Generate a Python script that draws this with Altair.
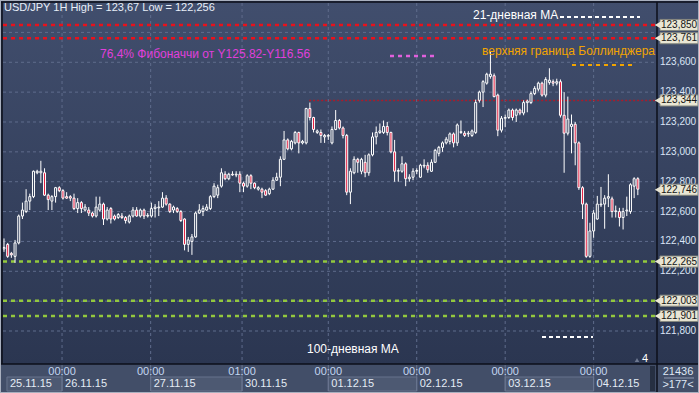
import altair as alt
import pandas as pd

# ---------------- data (USD/JPY 1H candles) ----------------
opens = [
    122.35, 122.38, 122.32, 122.30, 122.39, 122.57, 122.60, 122.67, 122.70, 122.86,
    122.86, 122.86, 122.71, 122.67, 122.70, 122.76, 122.74, 122.70, 122.70, 122.69,
    122.62, 122.66, 122.61, 122.61, 122.59, 122.57, 122.61, 122.65, 122.55, 122.62,
    122.57, 122.56,
    122.57, 122.56, 122.53, 122.57, 122.61, 122.57, 122.61, 122.57, 122.57, 122.62,
    122.625, 122.63, 122.69, 122.65, 122.61, 122.62, 122.60, 122.55, 122.38, 122.40,
    122.43, 122.59, 122.60, 122.61, 122.62, 122.70, 122.71, 122.77, 122.85, 122.82,
    122.85,
    122.845, 122.85, 122.79, 122.77, 122.84, 122.79, 122.75, 122.75, 122.74, 122.72,
    122.75, 122.81, 122.83, 122.95, 123.08, 123.02, 123.06, 123.13, 123.06, 123.06,
    123.29, 123.23, 123.13, 123.13, 123.10, 123.105, 123.06, 123.15, 123.21, 123.16,
    123.11,
    122.73, 122.86, 122.95, 122.87, 122.93, 122.86, 122.98, 123.10, 123.13, 123.13,
    123.17, 123.13, 123.00, 122.87, 122.87, 122.92, 122.82, 122.83, 122.87, 122.83,
    122.905, 122.91, 122.87, 122.93, 122.99, 123.03, 123.06, 123.07, 123.12, 123.06,
    123.13, 123.125,
    123.12, 123.11, 123.13, 123.345, 123.40, 123.46, 123.505, 123.51, 123.38, 123.145,
    123.225, 123.23, 123.28, 123.245, 123.28, 123.26, 123.33, 123.33, 123.39, 123.42,
    123.46, 123.38, 123.465, 123.47, 123.46, 123.47, 123.245, 123.125, 123.17, 123.185,
    123.06,
    122.76, 122.65, 122.30, 122.47, 122.55, 122.645, 122.65, 122.69, 122.685, 122.60,
    122.60, 122.56, 122.605, 122.60, 122.77, 122.82,
]
highs = [
    122.42, 122.39, 122.33, 122.41, 122.58, 122.66, 122.75, 122.72, 122.875, 122.88,
    122.94, 122.89, 122.72, 122.71, 122.765, 122.77, 122.75, 122.73, 122.71, 122.72,
    122.69, 122.67, 122.65, 122.63, 122.60, 122.70, 122.70, 122.66, 122.63, 122.63,
    122.58, 122.59,
    122.59, 122.57, 122.58, 122.63, 122.63, 122.62, 122.62, 122.59, 122.66, 122.65,
    122.67, 122.73, 122.71, 122.655, 122.64, 122.63, 122.61, 122.555, 122.43, 122.45,
    122.60, 122.65, 122.64, 122.65, 122.71, 122.79, 122.78, 122.89, 122.87, 122.86,
    122.87,
    122.87, 122.87, 122.80, 122.85, 122.85, 122.795, 122.77, 122.76, 122.75, 122.76,
    122.83, 122.86, 122.97, 123.14, 123.09, 123.08, 123.14, 123.135, 123.08, 123.295,
    123.33, 123.235, 123.15, 123.15, 123.12, 123.12, 123.17, 123.28, 123.22, 123.17,
    123.12,
    122.89, 122.97, 122.96, 122.96, 122.98, 122.99, 123.13, 123.17, 123.19, 123.21,
    123.20, 123.135, 123.08, 122.89, 122.97, 122.93, 122.85, 122.89, 122.89, 122.92,
    122.95, 122.93, 122.95, 123.02, 123.04, 123.07, 123.10, 123.13, 123.13, 123.19,
    123.21, 123.14,
    123.14, 123.15, 123.35, 123.41, 123.48, 123.53, 123.67, 123.525, 123.39, 123.24,
    123.25, 123.29, 123.29, 123.29, 123.29, 123.345, 123.35, 123.405, 123.44, 123.47,
    123.47, 123.50, 123.56, 123.485, 123.49, 123.485, 123.40, 123.37, 123.25, 123.20,
    123.07,
    122.77, 122.66, 122.525, 122.61, 122.705, 122.765, 122.71, 122.85, 122.70, 122.64,
    122.625, 122.625, 122.70, 122.79, 122.83, 122.83,
]
lows = [
    122.33, 122.29, 122.29, 122.256, 122.38, 122.55, 122.59, 122.61, 122.69, 122.85,
    122.79, 122.705, 122.61, 122.61, 122.66, 122.73, 122.68, 122.685, 122.67, 122.61,
    122.59, 122.59, 122.60, 122.57, 122.56, 122.56, 122.60, 122.51, 122.54, 122.52,
    122.54, 122.55,
    122.55, 122.52, 122.52, 122.56, 122.565, 122.56, 122.55, 122.56, 122.56, 122.56,
    122.57, 122.625, 122.64, 122.59, 122.59, 122.59, 122.53, 122.34, 122.33, 122.31,
    122.425, 122.585, 122.57, 122.605, 122.61, 122.69, 122.69, 122.76, 122.81, 122.81,
    122.84,
    122.83, 122.73, 122.73, 122.76, 122.75, 122.75, 122.74, 122.69, 122.705, 122.71,
    122.745, 122.805, 122.77, 122.945, 123.01, 123.01, 123.05, 122.99, 123.05, 123.05,
    123.21, 123.13, 123.12, 123.06, 123.06, 123.08, 123.05, 123.145, 123.15, 123.09,
    122.71,
    122.65, 122.85, 122.86, 122.85, 122.83, 122.84, 122.97, 123.05, 123.12, 123.12,
    123.11, 122.99, 122.80, 122.80, 122.86, 122.77, 122.80, 122.81, 122.85, 122.825,
    122.89, 122.86, 122.865, 122.925, 122.97, 123.00, 123.05, 123.05, 123.03, 123.04,
    123.12, 123.10,
    123.10, 123.10, 123.12, 123.33, 123.30, 123.45, 123.49, 123.365, 123.105, 123.13,
    123.165, 123.22, 123.21, 123.20, 123.245, 123.245, 123.265, 123.32, 123.38, 123.405,
    123.37, 123.365, 123.45, 123.44, 123.445, 123.23, 122.86, 123.11, 122.99, 122.91,
    122.745,
    122.55, 122.29, 122.29, 122.425, 122.545, 122.63, 122.485, 122.63, 122.56, 122.56,
    122.50, 122.48, 122.57, 122.585, 122.69, 122.71,
]
closes = [
    122.36, 122.30, 122.31, 122.39, 122.57, 122.61, 122.67, 122.70, 122.87, 122.87,
    122.87, 122.71, 122.68, 122.70, 122.76, 122.74, 122.69, 122.69, 122.69, 122.62,
    122.66, 122.62, 122.63, 122.59, 122.57, 122.63, 122.65, 122.55, 122.61, 122.55,
    122.55, 122.58,
    122.56, 122.54, 122.57, 122.61, 122.57, 122.61, 122.57, 122.575, 122.62, 122.63,
    122.63, 122.69, 122.65, 122.60, 122.63, 122.60, 122.54, 122.38, 122.41, 122.43,
    122.59, 122.61, 122.62, 122.63, 122.70, 122.77, 122.76, 122.86, 122.82, 122.85,
    122.845,
    122.85, 122.79, 122.77, 122.84, 122.79, 122.76, 122.76, 122.73, 122.71, 122.75,
    122.81, 122.83, 122.95, 123.08, 123.02, 123.07, 123.13, 123.06, 123.07, 123.29,
    123.23, 123.15, 123.14, 123.11, 123.11, 123.11, 123.15, 123.21, 123.16, 123.11,
    122.73,
    122.87, 122.95, 122.93, 122.95, 122.86, 122.98, 123.10, 123.13, 123.14, 123.17,
    123.13, 123.00, 122.87, 122.875, 122.92, 122.82, 122.83, 122.87, 122.875, 122.91,
    122.91, 122.88, 122.93, 123.01, 123.03, 123.06, 123.085, 123.12, 123.06, 123.18,
    123.135, 123.11,
    123.125, 123.14, 123.33, 123.40, 123.47, 123.52, 123.52, 123.37, 123.145, 123.225,
    123.23, 123.28, 123.23, 123.28, 123.26, 123.33, 123.34, 123.39, 123.425, 123.46,
    123.38, 123.485, 123.48, 123.46, 123.47, 123.245, 123.125, 123.22, 123.185, 123.06,
    122.76,
    122.65, 122.30, 122.47, 122.59, 122.65, 122.65, 122.69, 122.70, 122.60, 122.605,
    122.56, 122.60, 122.61, 122.78, 122.82, 122.75,
]
assert len(opens) == len(highs) == len(lows) == len(closes)

# axis ticks and labels
price_ticks = [121.8, 122.0, 122.2, 122.4, 122.6, 122.8, 123.0, 123.2, 123.4, 123.6, 123.8]
price_labelled = [121.8, 122.2, 122.4, 122.6, 122.8, 123.0, 123.2, 123.4, 123.6]
time_ticks = [15.75, 39.8, 64.6, 88.0, 112.0, 136.0, 160.0]
time_labels = ["00:00", "00:00", "01:00", "00:00", "00:00", "00:00", "00:00"]
day_starts = [0.8, 15.75, 39.8, 64.6, 88.0, 112.0, 136.0, 160.0]
day_labels = ["25.11.15", "26.11.15", "27.11.15", "30.11.15", "01.12.15", "02.12.15", "03.12.15", "04.12.15"]

# horizontal levels
red_levels = [123.850, 123.761]
green_levels = [122.265, 122.003, 121.901]
dotted_level = 123.344
dotted_start = 82.8
box_prices = [123.850, 123.761, 123.344, 122.746, 122.265, 122.003, 121.901]

title_text = "USD/JPY 1H  High = 123,67  Low = 122,256"

# ---------------- chart ----------------
W, H = 654, 361
FONT = "Liberation Sans"
xs = alt.Scale(domain=[-0.27, 177.2], nice=False, zero=False)
ys = alt.Scale(domain=[121.579, 123.997], nice=False, zero=False)

df = pd.DataFrame({"i": list(range(len(opens))), "o": opens, "h": highs, "l": lows, "c": closes})
df["dir"] = ["up" if c >= o else "down" for o, c in zip(opens, closes)]
one = pd.DataFrame({"a": [0]})


def vrect(x1, x2, y1, y2, **kw):
    return alt.Chart(one).mark_rect(**kw).encode(
        x=alt.value(x1), x2=alt.value(x2), y=alt.value(y1), y2=alt.value(y2))


def vrule(x1, x2, y1, y2, **kw):
    return alt.Chart(one).mark_rule(**kw).encode(
        x=alt.value(x1), x2=alt.value(x2), y=alt.value(y1), y2=alt.value(y2))


def vtext(txt, x, y, **kw):
    kw.setdefault("font", FONT)
    kw.setdefault("baseline", "middle")
    kw.setdefault("align", "left")
    return alt.Chart(one).mark_text(text=txt, **kw).encode(x=alt.value(x), y=alt.value(y))


layers = []

# plot background gradient (also behind right axis)
layers.append(vrect(-3, 696, -3, 361, color=alt.LinearGradient(
    gradient="linear", x1=0, x2=0, y1=0, y2=1,
    stops=[alt.GradientStop(color="#414e6d", offset=0),
           alt.GradientStop(color="#2b3651", offset=1)])))

# grid
hgrid = pd.DataFrame({"p": price_ticks})
layers.append(alt.Chart(hgrid).mark_rule(color="#5f6c8c", strokeDash=[3, 3], strokeWidth=1).encode(
    y=alt.Y("p:Q", scale=ys, axis=None), x=alt.value(0), x2=alt.value(W)))
vgrid = pd.DataFrame({"t": time_ticks, "lab": time_labels})
layers.append(alt.Chart(vgrid).mark_rule(color="#5f6c8c", strokeDash=[3, 3], strokeWidth=1).encode(
    x=alt.X("t:Q", scale=xs, axis=None), y=alt.value(0), y2=alt.value(H)))

# level lines
layers.append(alt.Chart(pd.DataFrame({"p": red_levels})).mark_rule(
    color="#e8121c", strokeDash=[4, 4], strokeWidth=2.5).encode(
    y=alt.Y("p:Q", scale=ys, axis=None), x=alt.value(0), x2=alt.value(W)))
layers.append(alt.Chart(pd.DataFrame({"p": green_levels})).mark_rule(
    color="#93c83e", strokeDash=[4, 4], strokeWidth=2.5).encode(
    y=alt.Y("p:Q", scale=ys, axis=None), x=alt.value(0), x2=alt.value(W)))
layers.append(alt.Chart(pd.DataFrame({"p": [dotted_level], "s": [dotted_start]})).mark_rule(
    color="#a81c2c", strokeDash=[2, 2], strokeWidth=1.5).encode(
    y=alt.Y("p:Q", scale=ys, axis=None), x=alt.X("s:Q", scale=xs, axis=None), x2=alt.value(W)))

# candles
layers.append(alt.Chart(df).mark_rule(color="white", strokeWidth=1).encode(
    x=alt.X("i:Q", scale=xs, axis=None),
    y=alt.Y("l:Q", scale=ys, axis=None), y2="h:Q"))
layers.append(alt.Chart(df).transform_calculate(
    xa="datum.i - 0.27", xb="datum.i + 0.27").mark_rect(stroke="white", strokeWidth=1).encode(
    x=alt.X("xa:Q", scale=xs, axis=None), x2="xb:Q",
    y=alt.Y("o:Q", scale=ys, axis=None), y2="c:Q",
    fill=alt.Fill("dir:N", scale=alt.Scale(domain=["up", "down"], range=["#34405d", "#e3163a"]), legend=None)))

# annotations / legend-like labels
layers.append(vtext(title_text, 1, 5, fontSize=11, color="#e8eef8"))
layers.append(vtext("21-дневная МА", 470, 12, fontSize=12, color="#ffffff"))
layers.append(vrule(557, 637, 14, 14, color="#ffffff", strokeDash=[4, 3], strokeWidth=2))
layers.append(vtext("76,4% Фибоначчи от Y125.82-Y116.56", 97, 51, fontSize=12, color="#e03fdc"))
layers.append(vrule(387, 432, 53, 53, color="#e060dc", strokeDash=[4, 4], strokeWidth=2.5))
layers.append(vtext("верхняя граница Боллинджера", 479, 48, fontSize=12, color="#f2a400"))
layers.append(vrule(569, 629, 62, 62, color="#f2a400", strokeDash=[4, 4], strokeWidth=2))
layers.append(vtext("100-дневная МА", 304, 346, fontSize=12, color="#ffffff"))
layers.append(vrule(539, 590, 334, 334, color="#ffffff", strokeDash=[4, 3], strokeWidth=2))
layers.append(alt.Chart(one).mark_point(shape="triangle-up", filled=True, color="#6d7890", size=20, opacity=1).encode(
    x=alt.value(634), y=alt.value(357)))
layers.append(vtext("4", 639, 356, fontSize=11, color="#ffffff"))

# bottom strip (time axis)
layers.append(vrect(-3, 696, 361, 390, color="#424e68"))
boxes = pd.DataFrame({"s": day_starts[0::2], "e": [time_ticks[0], time_ticks[2], time_ticks[4], time_ticks[6]]})
layers.append(alt.Chart(boxes).mark_rect(fill="#4d5972", stroke="#66728c", strokeWidth=1).encode(
    x=alt.X("s:Q", scale=xs, axis=None), x2="e:Q", y=alt.value(374), y2=alt.value(388)))
layers.append(alt.Chart(vgrid).mark_rule(color="#6a7690", strokeWidth=1).encode(
    x=alt.X("t:Q", scale=xs, axis=None), y=alt.value(362), y2=alt.value(388)))
layers.append(alt.Chart(vgrid).mark_text(font=FONT, fontSize=11, color="#c3d5f0", align="center", baseline="middle").encode(
    x=alt.X("t:Q", scale=xs, axis=None), y=alt.value(369), text="lab:N"))
days = pd.DataFrame({"s": day_starts, "lab": day_labels})
layers.append(alt.Chart(days).mark_text(font=FONT, fontSize=11, color="#e4ebf5", align="left", baseline="middle", dx=3).encode(
    x=alt.X("s:Q", scale=xs, axis=None), y=alt.value(381), text="lab:N"))
layers.append(vrect(647, 652, 363, 388, color="#262f42"))

# frame lines
layers.append(vrule(-3, 696, 361, 361, color="#0c0f1a", strokeWidth=1.5))
layers.append(vrule(654, 654, -1, 390, color="#0c0f1a", strokeWidth=1.5))
layers.append(vrule(-3, 696, -1, -1, color="#0c0f1a", strokeWidth=1.5))
layers.append(vrule(-1, -1, -1, 361, color="#0c0f1a", strokeWidth=1.5))

# right axis labels
pt = pd.DataFrame({"p": price_labelled, "lab": [f"{v:.3f}".replace(".", ",") for v in price_labelled]})
layers.append(alt.Chart(pt).mark_text(font=FONT, fontSize=10, color="#dbe5f6", align="left", baseline="middle").encode(
    x=alt.value(657), y=alt.Y("p:Q", scale=ys, axis=None), text="lab:N"))

# price boxes
vb = pd.DataFrame({"p": box_prices, "lab": [f"{v:.3f}".replace(".", ",") for v in box_prices]})
layers.append(alt.Chart(vb).transform_calculate(p1="datum.p + 0.037", p2="datum.p - 0.037").mark_rect(
    fill="#e9e6d4", stroke="#85877e", strokeWidth=1).encode(
    x=alt.value(657), x2=alt.value(695), y=alt.Y("p1:Q", scale=ys, axis=None), y2="p2:Q"))
layers.append(alt.Chart(vb).mark_point(shape="triangle-left", filled=True, color="#e9e6d4", size=55, opacity=1).encode(
    x=alt.value(655), y=alt.Y("p:Q", scale=ys, axis=None)))
layers.append(alt.Chart(vb).mark_text(font=FONT, fontSize=10, color="#141414", align="left", baseline="middle").encode(
    x=alt.value(658), y=alt.Y("p:Q", scale=ys, axis=None), text="lab:N"))

# bottom-right counter box
layers.append(vtext("21436", 675, 369, fontSize=11, color="#dfe7f4", align="center"))
layers.append(vrule(661, 691, 375, 375, color="#8e99b0", strokeWidth=1))
layers.append(vtext(">177<", 675, 382, fontSize=11, color="#dfe7f4", align="center"))

# outer frame
layers.append(vrect(-3, 696, -3, 390, fill="transparent", stroke="#a9b0bf", strokeWidth=2))

chart = alt.layer(*layers).properties(
    width=W, height=H,
    autosize=alt.AutoSizeParams(type="none"),
    padding={"left": 3, "top": 3, "right": 42, "bottom": 29},
    background="#3a4662",
).configure_view(stroke=None)

chart.save("out.html", embed_options={"renderer": "svg", "actions": False})
